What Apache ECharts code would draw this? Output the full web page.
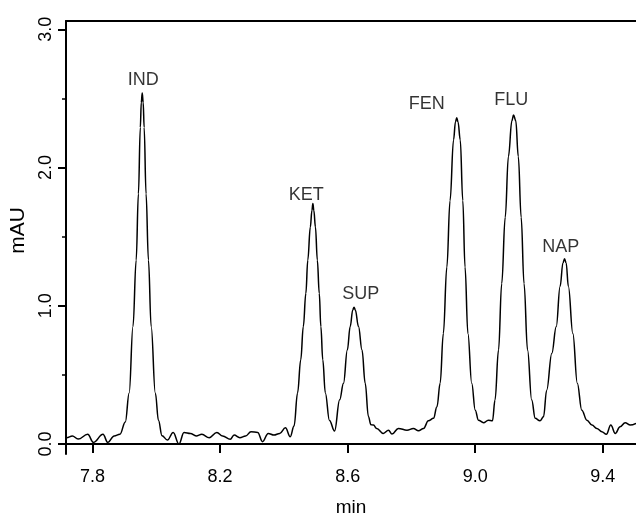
<!DOCTYPE html>
<html>
<head>
<meta charset="utf-8">
<script src="https://cdn.jsdelivr.net/npm/echarts@6/dist/echarts.min.js"></script>
<style>
html,body{margin:0;padding:0;background:#fff;}
#chart{width:636px;height:522px;}
</style>
</head>
<body>
<div id="chart"></div>
<script>
// retention time (min) and absorbance (mAU)
const times = [
  7.717,7.719,7.737,7.755,7.785,7.803,7.833,7.848,7.868,7.886,
  7.903,7.915,7.927,7.937,7.944,7.950,7.953,7.956,7.959,7.962,
  7.968,7.9755,7.984,7.997,8.007,8.018,8.035,8.053,8.071,8.087,
  8.107,8.125,8.143,8.166,8.190,8.208,8.232,8.244,8.262,8.280,
  8.297,8.318,8.333,8.351,8.369,8.387,8.405,8.420,8.432,8.443,
  8.453,8.461,8.469,8.475,8.483,8.488,8.491,8.494,8.499,8.505,
  8.511,8.516,8.522,8.530,8.543,8.559,8.575,8.587,8.599,8.608,
  8.616,8.620,8.624,8.634,8.645,8.655,8.665,8.673,8.681,8.691,
  8.712,8.728,8.739,8.759,8.786,8.806,8.822,8.838,8.853,8.869,
  8.880,8.890,8.900,8.911,8.921,8.932,8.938,8.942,8.946,8.953,
  8.961,8.968,8.977,8.989,9.000,9.010,9.026,9.041,9.054,9.062,
  9.073,9.083,9.094,9.104,9.115,9.120,9.127,9.135,9.144,9.153,
  9.164,9.177,9.188,9.203,9.214,9.224,9.240,9.254,9.266,9.275,
  9.280,9.285,9.292,9.306,9.320,9.334,9.350,9.366,9.381,9.397,
  9.411,9.425,9.439,9.454,9.470,9.486,9.504
];
const signal = [
  0.050,0.046,0.058,0.036,0.070,0.012,0.070,0.012,0.058,0.070,
  0.160,0.370,0.850,1.330,1.810,2.290,2.470,2.540,2.470,2.290,
  1.810,1.330,0.850,0.370,0.170,0.060,0.029,0.084,0.000,0.084,
  0.077,0.058,0.070,0.046,0.084,0.058,0.034,0.065,0.046,0.058,
  0.089,0.084,0.017,0.077,0.065,0.077,0.118,0.053,0.130,0.370,
  0.610,0.850,1.090,1.330,1.570,1.690,1.740,1.690,1.570,1.330,
  1.090,0.850,0.610,0.370,0.170,0.094,0.320,0.440,0.680,0.850,
  0.970,0.990,0.970,0.850,0.680,0.440,0.200,0.140,0.137,0.113,
  0.077,0.100,0.072,0.113,0.100,0.113,0.096,0.113,0.168,0.186,
  0.270,0.440,0.800,1.280,1.760,2.200,2.330,2.360,2.330,2.200,
  1.760,1.280,0.800,0.440,0.245,0.173,0.154,0.173,0.168,0.318,
  0.680,1.160,1.640,2.080,2.340,2.380,2.340,2.080,1.640,1.160,
  0.680,0.318,0.186,0.168,0.197,0.390,0.655,0.850,1.140,1.310,
  1.340,1.310,1.140,0.800,0.440,0.245,0.173,0.137,0.113,0.089,
  0.070,0.137,0.077,0.125,0.154,0.137,0.150
];
// peak labels and where they sit (data units)
const peakNames = ['IND','KET','SUP','FEN','FLU','NAP'];
const labelTimes = [7.959, 8.470, 8.641, 8.848, 9.113, 9.268];
const labelLevels = [2.63, 1.80, 1.087, 2.46, 2.485, 1.423];
// axis ticks
const xTicks = [7.8, 8.2, 8.6, 9.0, 9.4];
const yMajorTicks = [0, 1, 2, 3];
const yMinorTicks = [0.5, 1.5, 2.5];
const xRange = [7.717, 9.504];
const yRange = [-0.072, 3.06];

const FONT = 'Liberation Sans, Arial, sans-serif';
const chart = echarts.init(document.getElementById('chart'), null, {renderer: 'canvas'});
const line = times.map((t, i) => [t, signal[i]]);
const labels = peakNames.map((n, i) => ({name: n, value: [labelTimes[i], labelLevels[i]]}));

chart.setOption({
  animation: false,
  backgroundColor: '#fff',
  grid: {left: 66, right: 0, top: 21, bottom: 68, containLabel: false},
  xAxis: [{
    type: 'value', min: xRange[0], max: xRange[1], position: 'bottom',
    name: 'min', nameLocation: 'middle', nameGap: 44,
    nameTextStyle: {fontFamily: FONT, fontSize: 19, color: '#000'},
    axisLine: {show: true, lineStyle: {color: '#000', width: 2}},
    axisTick: {show: true, customValues: xTicks, length: 9, lineStyle: {color: '#000', width: 2}},
    axisLabel: {show: true, customValues: xTicks, margin: 14, fontFamily: FONT, fontSize: 18, color: '#000',
      formatter: v => Number(v).toFixed(1)},
    splitLine: {show: false}
  }, {
    type: 'value', min: xRange[0], max: xRange[1], position: 'top',
    axisLine: {show: true, onZero: false, lineStyle: {color: '#000', width: 2}},
    axisTick: {show: false}, axisLabel: {show: false}, splitLine: {show: false}
  }],
  yAxis: [{
    type: 'value', min: yRange[0], max: yRange[1], position: 'left',
    name: 'mAU', nameLocation: 'middle', nameGap: 34, nameRotate: 90,
    nameTextStyle: {fontFamily: FONT, fontSize: 21, color: '#000', padding: [0, 0, 0, 14]},
    axisLine: {show: true, onZero: false, lineStyle: {color: '#000', width: 2}},
    axisTick: {show: true, customValues: yMajorTicks, length: 8, lineStyle: {color: '#000', width: 2}},
    axisLabel: {show: true, customValues: yMajorTicks, rotate: 90, margin: 11, fontFamily: FONT, fontSize: 18, color: '#000',
      formatter: v => Number(v).toFixed(1)},
    splitLine: {show: false}
  }, {
    type: 'value', min: yRange[0], max: yRange[1], position: 'left',
    axisLine: {show: false},
    axisTick: {show: true, customValues: yMinorTicks, length: 4, lineStyle: {color: '#000', width: 1.5}},
    axisLabel: {show: false}, splitLine: {show: false}
  }],
  series: [{
    type: 'line', data: line, xAxisIndex: 0, yAxisIndex: 0,
    showSymbol: false, symbol: 'none', smooth: 0.4, smoothMonotone: 'x',
    lineStyle: {color: '#000', width: 1.5}
  }, {
    type: 'scatter', data: labels, xAxisIndex: 0, yAxisIndex: 0,
    symbolSize: 0, silent: true,
    label: {show: true, position: 'inside', formatter: p => p.name,
      fontFamily: FONT, fontSize: 18, color: '#000'}
  }]
});
</script>
</body>
</html>
